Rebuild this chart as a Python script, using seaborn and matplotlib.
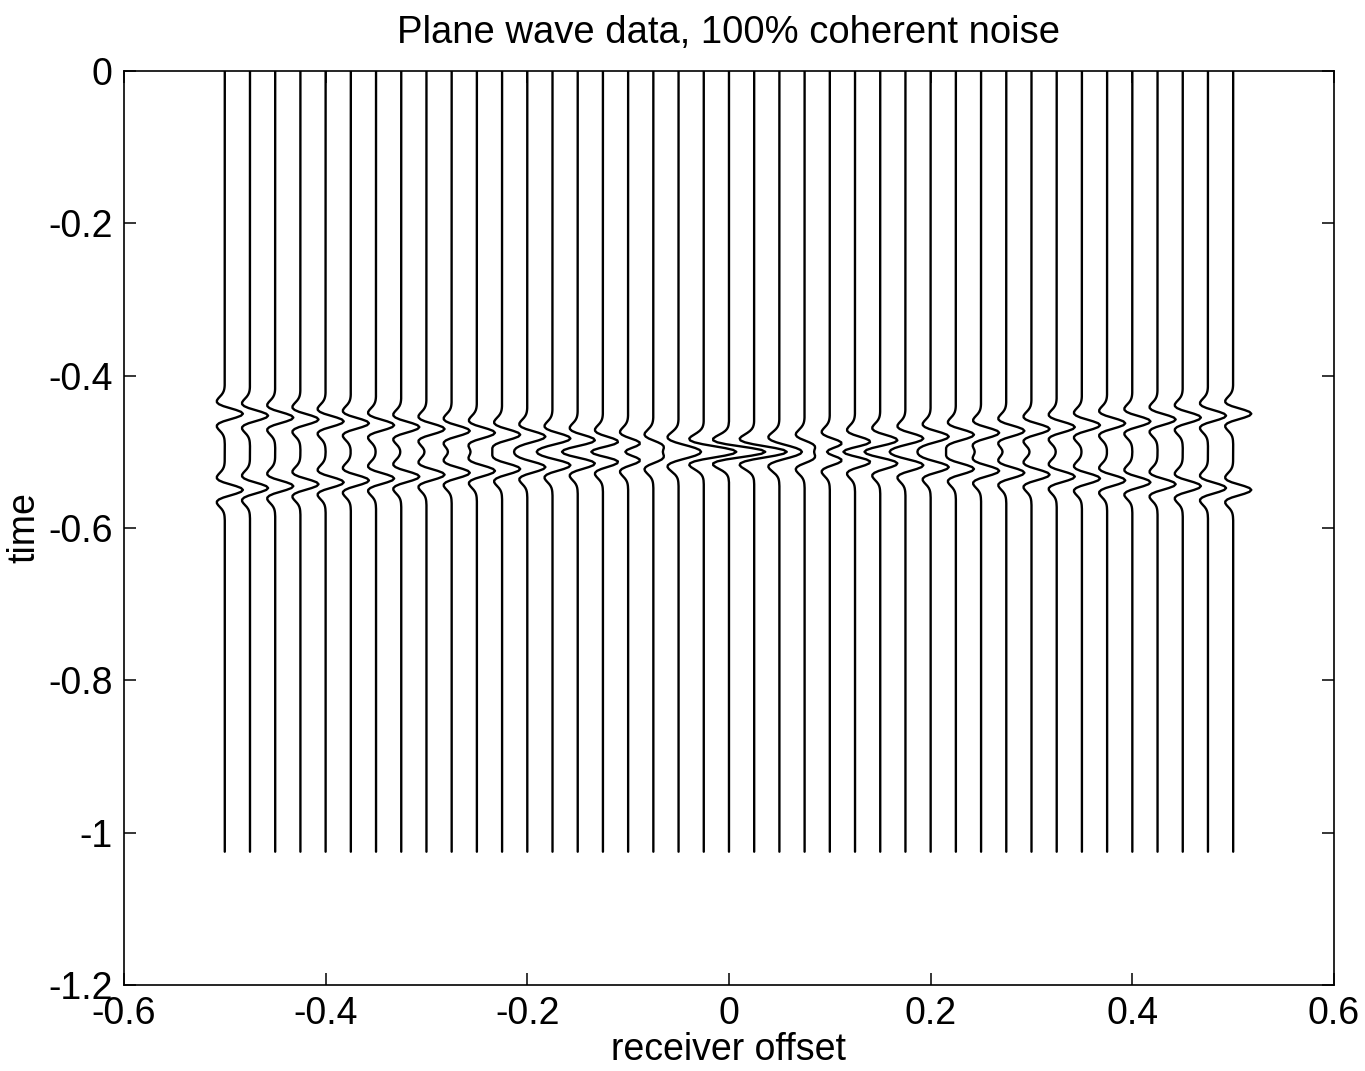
import matplotlib

matplotlib.use("Agg")

import matplotlib.pyplot as plt
import numpy as np
import pandas as pd
import seaborn as sns

# receiver offsets of the 41 traces
offsets = [
    -0.5, -0.475, -0.45, -0.425, -0.4, -0.375, -0.35, -0.325, -0.3, -0.275,
    -0.25, -0.225, -0.2, -0.175, -0.15, -0.125, -0.1, -0.075, -0.05, -0.025,
    0.0, 0.025, 0.05, 0.075, 0.1, 0.125, 0.15, 0.175, 0.2, 0.225,
    0.25, 0.275, 0.3, 0.325, 0.35, 0.375, 0.4, 0.425, 0.45, 0.475, 0.5,
]
# arrival time of the plane wave on each trace
signal_times = [
    -0.45, -0.4525, -0.455, -0.4575, -0.46, -0.4625, -0.465, -0.4675, -0.47, -0.4725,
    -0.475, -0.4775, -0.48, -0.4825, -0.485, -0.4875, -0.49, -0.4925, -0.495, -0.4975,
    -0.5, -0.5025, -0.505, -0.5075, -0.51, -0.5125, -0.515, -0.5175, -0.52, -0.5225,
    -0.525, -0.5275, -0.53, -0.5325, -0.535, -0.5375, -0.54, -0.5425, -0.545, -0.5475, -0.55,
]
# arrival time of the coherent noise (opposite dip)
noise_times = [
    -0.55, -0.5475, -0.545, -0.5425, -0.54, -0.5375, -0.535, -0.5325, -0.53, -0.5275,
    -0.525, -0.5225, -0.52, -0.5175, -0.515, -0.5125, -0.51, -0.5075, -0.505, -0.5025,
    -0.5, -0.4975, -0.495, -0.4925, -0.49, -0.4875, -0.485, -0.4825, -0.48, -0.4775,
    -0.475, -0.4725, -0.47, -0.4675, -0.465, -0.4625, -0.46, -0.4575, -0.455, -0.4525, -0.45,
]
signal_amplitude = 1.0
noise_amplitude = 1.0  # 100% coherent noise

# wavelet samples (0.0025 s apart), peak in the middle
wavelet_half = [
    -0.005, -0.012, -0.027, -0.055, -0.103, -0.175, -0.268, -0.365,
    -0.435, -0.434, -0.320, -0.078, 0.262, 0.621, 0.897,
]
wavelet = wavelet_half + [1.0] + wavelet_half[::-1]
sample_interval = 0.0025
record_length = 1.025
trace_gain = 0.018

x_ticks = [-0.6, -0.4, -0.2, 0.0, 0.2, 0.4, 0.6]
x_tick_labels = ["-0.6", "-0.4", "-0.2", "0", "0.2", "0.4", "0.6"]
y_ticks = [-1.2, -1.0, -0.8, -0.6, -0.4, -0.2, 0.0]
y_tick_labels = ["-1.2", "-1", "-0.8", "-0.6", "-0.4", "-0.2", "0"]

n_samples = int(round(record_length / sample_interval)) + 1
times = -np.arange(n_samples) * sample_interval
half = len(wavelet_half)
wavelet_arr = np.array(wavelet)

rows = []
for trace, (offset, t_sig, t_noise) in enumerate(zip(offsets, signal_times, noise_times)):
    amp = np.zeros(n_samples)
    for t_event, a in ((t_sig, signal_amplitude), (t_noise, noise_amplitude)):
        centre = int(round(-t_event / sample_interval))
        amp[centre - half:centre + half + 1] += a * wavelet_arr
    rows.append(pd.DataFrame({
        "trace": trace,
        "time": times,
        "x": offset + trace_gain * amp,
    }))
traces = pd.concat(rows, ignore_index=True)

sns.set_theme(style="ticks")
plt.rcParams["font.family"] = ["Liberation Sans", "DejaVu Sans"]
plt.rcParams["axes.unicode_minus"] = False
plt.rcParams["text.color"] = "black"
plt.rcParams["axes.labelcolor"] = "black"

fig = plt.figure(figsize=(13.65, 10.71), dpi=100)
ax = fig.add_axes([0.0908, 0.0803, 0.8865, 0.8534])

sns.lineplot(
    data=traces, x="x", y="time", units="trace", estimator=None,
    sort=False, color="black", linewidth=1.7, legend=False, ax=ax,
)

ax.set_xlim(-0.6, 0.6)
ax.set_ylim(-1.2, 0.0)
ax.set_xticks(x_ticks)
ax.set_xticklabels(x_tick_labels)
ax.set_yticks(y_ticks)
ax.set_yticklabels(y_tick_labels)
ax.tick_params(direction="in", top=True, right=True, length=8.5, width=1.1,
               labelsize=27, pad=8, colors="black")
for spine in ax.spines.values():
    spine.set_visible(True)
    spine.set_linewidth(1.2)
    spine.set_color("black")

ax.set_xlabel("receiver offset", fontsize=27, labelpad=0, color="black")
ax.set_ylabel("time", fontsize=27, labelpad=4, color="black")
ax.set_title("Plane wave data, 100% coherent noise", fontsize=27.5, pad=20,
             color="black")

fig.savefig("out.png", dpi=100, facecolor="white")
plt.close(fig)
